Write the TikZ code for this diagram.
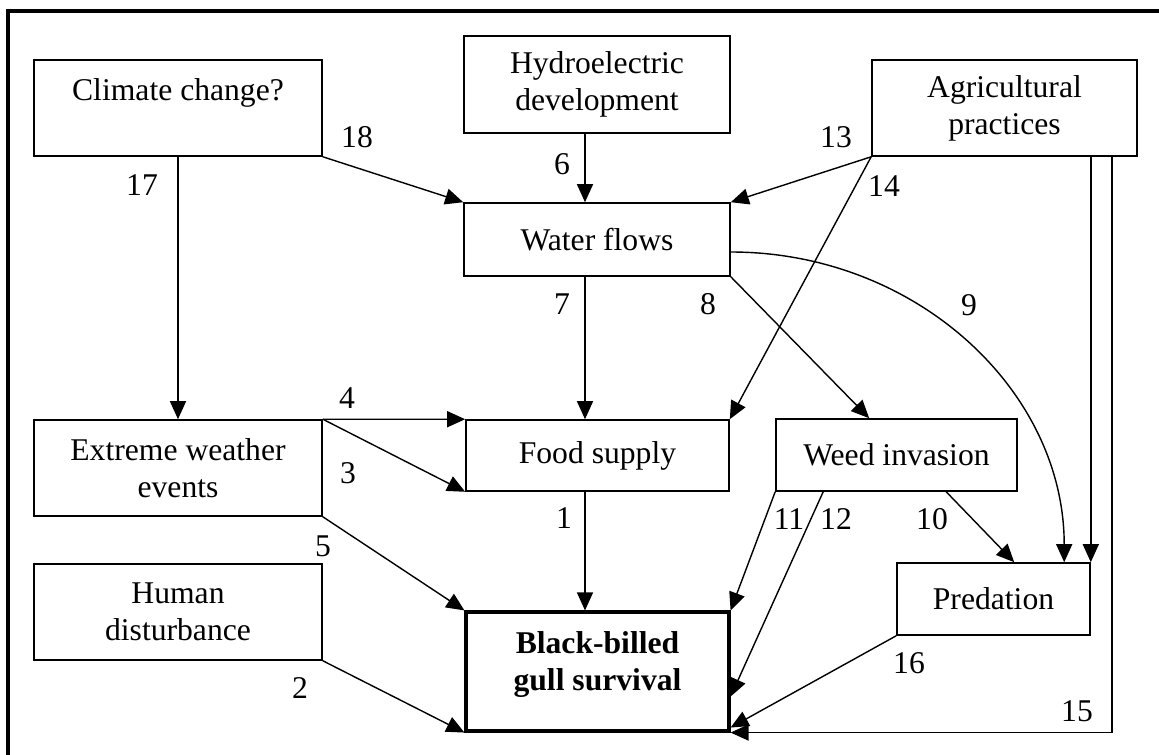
\documentclass[tikz,border=0pt]{standalone}
\usepackage{fontspec}
\setmainfont{Liberation Serif}
\usetikzlibrary{arrows.meta, positioning, calc}

\begin{document}
\begin{tikzpicture}[
    x=0.025cm, y=-0.025cm,
    % Define node styles
    box/.style={rectangle, draw=black, line width=1.1pt, align=center,
                fill=white, inner sep=0pt,
                font=\fontsize{22.5}{26.3}\selectfont},
    num/.style={inner sep=0pt, font=\fontsize{22.5}{26.3}\selectfont},
    link/.style={-{Triangle[length=0.45cm, width=0.4cm]}, line width=1pt}
]
    \useasboundingbox (0,0) rectangle (1159,755);
    \draw[line width=2.6pt] (8,11) rectangle (1185,785);

    % Create nodes
    \node[box, minimum width=7.2cm, minimum height=2.4cm] (climate) at (178,108) {Climate change?\\[-0.3cm]\strut};
    \node[box, minimum width=6.65cm, minimum height=2.425cm] (hydro) at (597,84.5) {Hydroelectric\\development};
    \node[box, minimum width=6.625cm, minimum height=2.4cm] (agri) at (1004.5,108) {Agricultural\\practices};
    \node[box, minimum width=6.65cm, minimum height=1.825cm] (water) at (597,239.5) {Water flows};
    \node[box, minimum width=7.2cm, minimum height=2.4cm] (extreme) at (178,468) {Extreme weather\\events};
    \node[box, minimum width=6.575cm, minimum height=1.775cm] (food) at (597.5,455.5) {Food supply};
    \node[box, minimum width=6.025cm, minimum height=1.8cm] (weed) at (896.5,455) {Weed invasion};
    \node[box, minimum width=4.825cm, minimum height=1.8cm] (pred) at (993.5,599) {Predation};
    \node[box, minimum width=7.2cm, minimum height=2.4cm] (human) at (178,612) {Human\\disturbance};
    \node[box, line width=2.2pt, minimum width=6.575cm, minimum height=2.975cm,
          font=\fontsize{22.5}{26.3}\selectfont\bfseries] (gull) at (597.5,671.5) {Black-billed\\gull survival\\[-0.4cm]\mbox{}};

    \coordinate (axis) at (585,0);
    \coordinate (rail) at (1112,0);

    % Draw arrows between nodes
    \draw[link] (climate.south) -- (extreme.north);
    \draw[link] (climate.south east) -- (water.north west);
    \draw[link] (hydro.south -| axis) -- (water.north -| axis);
    \draw[link] (agri.south west) -- (water.north east);
    \draw[link] (agri.south west) -- (food.north east);
    \draw[link] (water.south -| axis) -- (food.north -| axis);
    \draw[link] (water.south east) -- ($(weed.north west)+(94,0)$);
    \draw[link] ($(water.east)+(0,12.5)$) .. controls +(185,0) and +(0,-172) .. ($(pred.north west)+(168,0)$);
    \draw[link] (agri.south -| pred.north east) -- (pred.north east);
    \draw[link] (agri.south -| rail) |- (gull.south east);
    \draw[link] (extreme.north east) -- (food.north west);
    \draw[link] (extreme.north east) -- (food.south west);
    \draw[link] (extreme.south east) -- (gull.north west);
    \draw[link] (human.south east) -- (gull.south west);
    \draw[link] (food.south -| axis) -- (gull.north -| axis);
    \draw[link] (weed.south west) -- (gull.north east);
    \draw[link] ($(weed.south west)+(48,0)$) -- ($(gull.south east)+(0,-36)$);
    \draw[link] ($(weed.south west)+(171,0)$) -- ($(pred.north west)+(118,0)$);
    \draw[link] (pred.south west) -- ($(gull.south east)+(0,-5)$);

    % Link numbers
    \foreach \n/\px/\py in {1/564/518, 2/300/688, 3/348/473, 4/347/398,
        5/323/546, 6/562/164, 7/562/304, 8/708/304, 9/969/305,
        10/932/519, 11/789/519, 12/836/519, 13/836/137, 14/884/186,
        15/1077/711, 16/909/663, 17/142/185, 18/357/137}
        \node[num] (n\n) at (\px,\py) {\n};
\end{tikzpicture}
\end{document}
